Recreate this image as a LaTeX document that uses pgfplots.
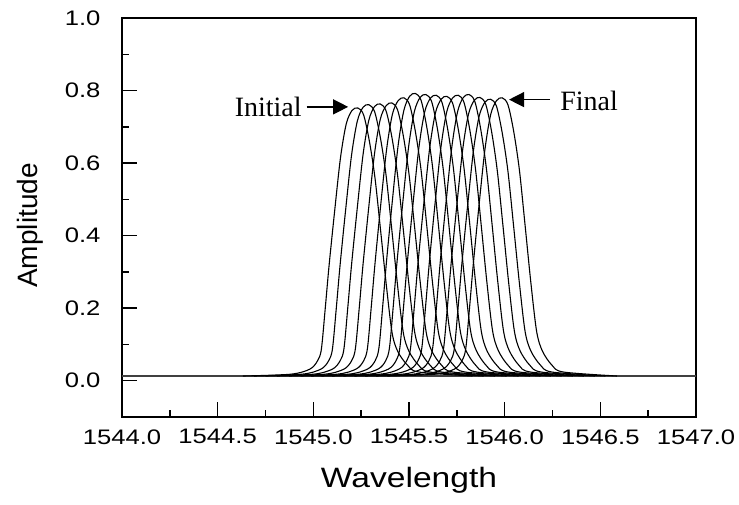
\documentclass[border=0pt]{standalone}
\usepackage{fontspec}
\setmainfont{Liberation Sans}
\newfontfamily\tickfont{Liberation Sans}[FakeStretch=1.22]
\newfontfamily\xlabfont{Liberation Sans}[FakeStretch=1.2]
\newfontfamily\annfont{Liberation Serif}
\usepackage{pgfplots}
\pgfplotsset{compat=1.18}
\usetikzlibrary{arrows.meta}
\begin{document}
\begin{tikzpicture}
\path[use as bounding box] (-122pt,-87pt) rectangle (617pt,417pt);
\begin{axis}[
  at={(0pt,0pt)}, anchor=south west, scale only axis,
  width=574pt, height=399pt,
  xmin=1544, xmax=1547, ymin=-0.1, ymax=1.0,
  axis line style={line width=1.6pt, black},
  xtick={1544,1544.5,1545,1545.5,1546,1546.5,1547},
  minor xtick={1544.25,1544.75,1545.25,1545.75,1546.25,1546.75},
  ytick={0,0.2,0.4,0.6,0.8,1.0},
  minor ytick={0.1,0.3,0.5,0.7,0.9},
  tick pos=left, tick align=inside,
  major tick length=15pt, minor tick length=7pt,
  every tick/.style={line width=1.4pt, black},
  /pgf/number format/assume math mode=true,
  xticklabel style={font=\tickfont\fontsize{21}{24}\selectfont, yshift=-9pt,
    /pgf/number format/.cd, fixed, fixed zerofill, precision=1, 1000 sep={}},
  yticklabel style={font=\tickfont\fontsize{21}{24}\selectfont, xshift=-18pt,
    /pgf/number format/.cd, fixed, fixed zerofill, precision=1},
  xlabel={Wavelength}, ylabel={Amplitude},
  xlabel style={font=\xlabfont\fontsize{28}{32}\selectfont, at={(axis description cs:0.5,-0.1178)}, anchor=north},
  ylabel style={font=\fontsize{28}{32}\selectfont, at={(axis description cs:-0.131,0.48)}, rotate=0, anchor=south},
  clip=true,
  curve/.style={black, solid, no markers, line width=1.1pt, smooth, tension=0.5},
]
\addplot[color=black!75, solid, no markers, line width=1.4pt] coordinates {(1544,0.013)(1547,0.013)};
% curve 0
\addplot[curve] coordinates {(1544.632,0.013)(1544.882,0.018)(1544.982,0.032)(1545.022,0.055)(1545.042,0.087)(1545.062,0.198)(1545.082,0.316)(1545.112,0.471)(1545.142,0.615)(1545.172,0.708)(1545.202,0.745)(1545.232,0.752)(1545.262,0.734)(1545.292,0.663)(1545.322,0.560)(1545.352,0.412)(1545.382,0.261)(1545.412,0.131)(1545.442,0.080)(1545.492,0.043)(1545.552,0.024)(1545.832,0.013)};
% curve 1
\addplot[curve] coordinates {(1544.690,0.013)(1544.940,0.018)(1545.040,0.032)(1545.080,0.055)(1545.100,0.088)(1545.120,0.200)(1545.140,0.320)(1545.170,0.477)(1545.200,0.623)(1545.230,0.716)(1545.260,0.754)(1545.290,0.761)(1545.320,0.742)(1545.350,0.671)(1545.380,0.567)(1545.410,0.417)(1545.440,0.264)(1545.470,0.133)(1545.500,0.081)(1545.550,0.043)(1545.610,0.024)(1545.890,0.013)};
% curve 2
\addplot[curve] coordinates {(1544.750,0.013)(1545.000,0.018)(1545.100,0.032)(1545.140,0.055)(1545.160,0.088)(1545.180,0.201)(1545.200,0.321)(1545.230,0.478)(1545.260,0.624)(1545.290,0.718)(1545.320,0.756)(1545.350,0.763)(1545.380,0.744)(1545.410,0.673)(1545.440,0.568)(1545.470,0.418)(1545.500,0.264)(1545.530,0.133)(1545.560,0.081)(1545.610,0.043)(1545.670,0.024)(1545.950,0.013)};
% curve 3
\addplot[curve] coordinates {(1544.810,0.013)(1545.060,0.018)(1545.160,0.032)(1545.200,0.055)(1545.220,0.089)(1545.240,0.201)(1545.260,0.322)(1545.290,0.480)(1545.320,0.627)(1545.350,0.721)(1545.380,0.758)(1545.410,0.766)(1545.440,0.747)(1545.470,0.676)(1545.500,0.570)(1545.530,0.420)(1545.560,0.265)(1545.590,0.133)(1545.620,0.081)(1545.670,0.043)(1545.730,0.024)(1546.010,0.013)};
% curve 4
\addplot[curve] coordinates {(1544.873,0.013)(1545.123,0.018)(1545.223,0.032)(1545.263,0.055)(1545.283,0.090)(1545.303,0.205)(1545.323,0.327)(1545.353,0.489)(1545.383,0.638)(1545.413,0.734)(1545.443,0.772)(1545.473,0.780)(1545.503,0.761)(1545.533,0.688)(1545.563,0.581)(1545.593,0.427)(1545.623,0.270)(1545.653,0.136)(1545.683,0.082)(1545.733,0.043)(1545.793,0.024)(1546.073,0.013)};
% curve 5
\addplot[curve] coordinates {(1544.933,0.013)(1545.183,0.018)(1545.283,0.032)(1545.323,0.055)(1545.343,0.091)(1545.363,0.208)(1545.383,0.332)(1545.413,0.496)(1545.443,0.648)(1545.473,0.745)(1545.503,0.784)(1545.533,0.792)(1545.563,0.773)(1545.593,0.699)(1545.623,0.590)(1545.653,0.434)(1545.683,0.274)(1545.713,0.138)(1545.743,0.083)(1545.793,0.043)(1545.853,0.024)(1546.133,0.013)};
% curve 6
\addplot[curve] coordinates {(1544.988,0.013)(1545.238,0.018)(1545.338,0.032)(1545.378,0.055)(1545.398,0.091)(1545.418,0.207)(1545.438,0.331)(1545.468,0.494)(1545.498,0.645)(1545.528,0.742)(1545.558,0.781)(1545.588,0.789)(1545.618,0.770)(1545.648,0.696)(1545.678,0.587)(1545.708,0.432)(1545.738,0.273)(1545.768,0.137)(1545.798,0.083)(1545.848,0.043)(1545.908,0.024)(1546.188,0.013)};
% curve 7
\addplot[curve] coordinates {(1545.042,0.013)(1545.292,0.018)(1545.392,0.032)(1545.432,0.055)(1545.452,0.090)(1545.472,0.207)(1545.492,0.330)(1545.522,0.493)(1545.552,0.644)(1545.582,0.741)(1545.612,0.779)(1545.642,0.787)(1545.672,0.768)(1545.702,0.694)(1545.732,0.586)(1545.762,0.431)(1545.792,0.272)(1545.822,0.137)(1545.852,0.083)(1545.902,0.043)(1545.962,0.024)(1546.242,0.013)};
% curve 8
\addplot[curve] coordinates {(1545.098,0.013)(1545.348,0.018)(1545.448,0.032)(1545.488,0.055)(1545.508,0.090)(1545.528,0.206)(1545.548,0.329)(1545.578,0.491)(1545.608,0.641)(1545.638,0.738)(1545.668,0.776)(1545.698,0.784)(1545.728,0.765)(1545.758,0.692)(1545.788,0.584)(1545.818,0.429)(1545.848,0.271)(1545.878,0.136)(1545.908,0.082)(1545.958,0.043)(1546.018,0.024)(1546.298,0.013)};
% curve 9
\addplot[curve] coordinates {(1545.157,0.013)(1545.407,0.018)(1545.507,0.032)(1545.547,0.055)(1545.567,0.090)(1545.587,0.207)(1545.607,0.330)(1545.637,0.493)(1545.667,0.644)(1545.697,0.741)(1545.727,0.779)(1545.757,0.787)(1545.787,0.768)(1545.817,0.694)(1545.847,0.586)(1545.877,0.431)(1545.907,0.272)(1545.937,0.137)(1545.967,0.083)(1546.017,0.043)(1546.077,0.024)(1546.357,0.013)};
% curve 10
\addplot[curve] coordinates {(1545.214,0.013)(1545.464,0.018)(1545.564,0.032)(1545.604,0.055)(1545.624,0.091)(1545.644,0.207)(1545.664,0.331)(1545.694,0.494)(1545.724,0.645)(1545.754,0.742)(1545.784,0.781)(1545.814,0.789)(1545.844,0.770)(1545.874,0.696)(1545.904,0.587)(1545.934,0.432)(1545.964,0.273)(1545.994,0.137)(1546.024,0.083)(1546.074,0.043)(1546.134,0.024)(1546.414,0.013)};
% curve 11
\addplot[curve] coordinates {(1545.271,0.013)(1545.521,0.018)(1545.621,0.032)(1545.661,0.055)(1545.681,0.090)(1545.701,0.205)(1545.721,0.328)(1545.751,0.489)(1545.781,0.639)(1545.811,0.735)(1545.841,0.773)(1545.871,0.781)(1545.901,0.762)(1545.931,0.689)(1545.961,0.581)(1545.991,0.428)(1546.021,0.270)(1546.051,0.136)(1546.081,0.082)(1546.131,0.043)(1546.191,0.024)(1546.471,0.013)};
% curve 12
\addplot[curve] coordinates {(1545.327,0.013)(1545.577,0.018)(1545.677,0.032)(1545.717,0.055)(1545.737,0.089)(1545.757,0.204)(1545.777,0.326)(1545.807,0.486)(1545.837,0.635)(1545.867,0.730)(1545.897,0.768)(1545.927,0.776)(1545.957,0.757)(1545.987,0.684)(1546.017,0.578)(1546.047,0.425)(1546.077,0.269)(1546.107,0.135)(1546.137,0.082)(1546.187,0.043)(1546.247,0.024)(1546.527,0.013)};
% curve 13
\addplot[curve] coordinates {(1545.387,0.013)(1545.637,0.018)(1545.737,0.032)(1545.777,0.055)(1545.797,0.090)(1545.817,0.205)(1545.837,0.327)(1545.867,0.489)(1545.897,0.638)(1545.927,0.734)(1545.957,0.772)(1545.987,0.780)(1546.017,0.761)(1546.047,0.688)(1546.077,0.581)(1546.107,0.427)(1546.137,0.270)(1546.167,0.136)(1546.197,0.082)(1546.247,0.043)(1546.307,0.024)(1546.587,0.013)};
% annotations
\draw[line width=1.3pt, -{Triangle[length=15pt,width=15pt]}] (axis cs:1544.965,0.755) -- (axis cs:1545.182,0.755);
\node[anchor=east, inner sep=0pt, font=\annfont\fontsize{28}{32}\selectfont] at (axis cs:1544.94,0.755) {Initial};
\draw[line width=1.3pt, -{Triangle[length=15pt,width=15pt]}] (axis cs:1546.237,0.775) -- (axis cs:1546.023,0.775);
\node[anchor=west, inner sep=0pt, font=\annfont\fontsize{28}{32}\selectfont] at (axis cs:1546.29,0.772) {Final};
\end{axis}
\end{tikzpicture}
\end{document}
